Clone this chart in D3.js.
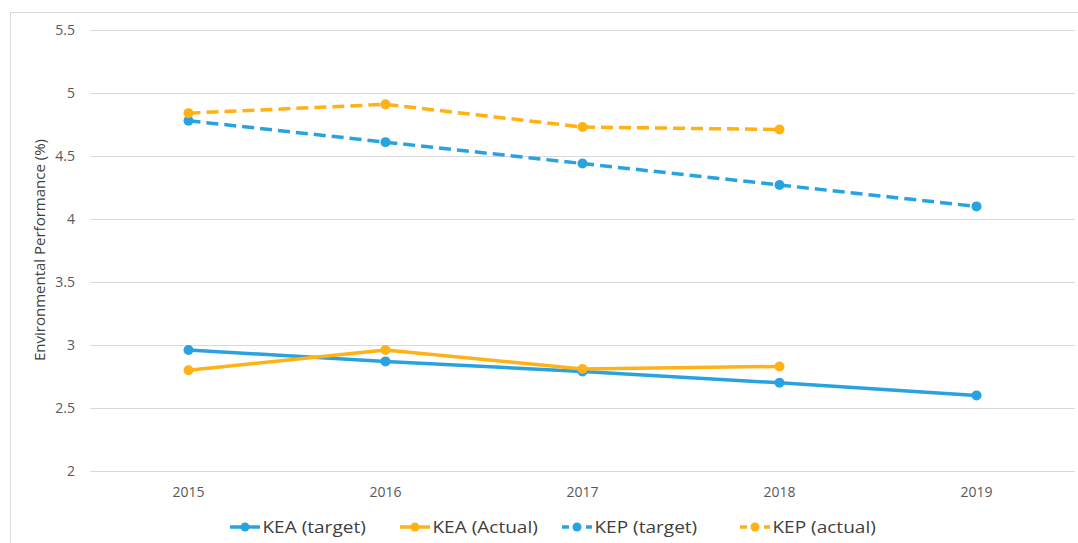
<!DOCTYPE html>
<html>
<head>
<meta charset="utf-8">
<script src="https://cdn.jsdelivr.net/npm/d3@7"></script>
<style>
  body { margin: 0; background: #fff; }
  svg { display: block; font-family: "Open Sans", "Noto Sans", sans-serif; }
</style>
</head>
<body>
<svg id="chart"></svg>
<script>
// Chart data
const years = ["2015", "2016", "2017", "2018", "2019"];
const keaTarget = [2.96, 2.87, 2.79, 2.70, 2.60];
const keaActual = [2.80, 2.96, 2.81, 2.83, null];
const kepTarget = [4.78, 4.61, 4.44, 4.27, 4.10];
const kepActual = [4.84, 4.91, 4.73, 4.71, null];
const yTicks = [2, 2.5, 3, 3.5, 4, 4.5, 5, 5.5];

const series = [
    { name: "KEA (target)", values: keaTarget, color: "#29A3DF", dashed: false },
    { name: "KEA (Actual)", values: keaActual, color: "#FFB116", dashed: false },
    { name: "KEP (target)", values: kepTarget, color: "#29A3DF", dashed: true },
    { name: "KEP (actual)", values: kepActual, color: "#FFB116", dashed: true }
];

const width = 1078;
const height = 543;
const margin = { left: 90, right: 3, top: 30, bottom: 72 };

const svg = d3.select("#chart")
    .attr("width", width)
    .attr("height", height);

// Outer chart frame
svg.append("rect")
    .attr("x", 10.5).attr("y", 12.5)
    .attr("width", width + 10).attr("height", height + 10)
    .attr("fill", "none")
    .attr("stroke", "#d9d9d9");

const x = d3.scaleBand()
    .domain(years)
    .range([margin.left, width - margin.right]);

const y = d3.scaleLinear()
    .domain([2, 5.5])
    .range([height - margin.bottom, margin.top]);

// Gridlines
svg.append("g")
    .selectAll("line")
    .data(yTicks)
    .join("line")
    .attr("x1", margin.left)
    .attr("x2", width - margin.right)
    .attr("y1", d => Math.round(y(d)) + 0.5)
    .attr("y2", d => Math.round(y(d)) + 0.5)
    .attr("stroke", "#d9d9d9")
    .attr("stroke-width", 1);

// Y tick labels
svg.append("g")
    .selectAll("text")
    .data(yTicks)
    .join("text")
    .attr("x", 75)
    .attr("y", d => y(d))
    .attr("dy", "0.35em")
    .attr("text-anchor", "end")
    .attr("font-size", 14)
    .attr("fill", "#595959")
    .text(d => d);

// X tick labels
svg.append("g")
    .selectAll("text")
    .data(years)
    .join("text")
    .attr("x", d => x(d) + x.bandwidth() / 2)
    .attr("y", 497)
    .attr("text-anchor", "middle")
    .attr("font-size", 14)
    .attr("fill", "#595959")
    .text(d => d);

// Y axis title
svg.append("text")
    .attr("transform", `translate(45, 250) rotate(-90)`)
    .attr("text-anchor", "middle")
    .attr("font-size", 15)
    .attr("fill", "#404040")
    .text("Environmental Performance (%)");

const line = d3.line()
    .defined(d => d.v !== null)
    .x(d => x(d.year) + x.bandwidth() / 2)
    .y(d => y(d.v));

series.forEach(s => {
    const pts = years.map((yr, i) => ({ year: yr, v: s.values[i] }));
    svg.append("path")
        .datum(pts)
        .attr("fill", "none")
        .attr("stroke", s.color)
        .attr("stroke-width", 3.5)
        .attr("stroke-dasharray", s.dashed ? "12,6" : null)
        .attr("d", line);
    svg.append("g")
        .selectAll("circle")
        .data(pts.filter(d => d.v !== null))
        .join("circle")
        .attr("cx", d => x(d.year) + x.bandwidth() / 2)
        .attr("cy", d => y(d.v))
        .attr("r", 5)
        .attr("fill", s.color);
});

// Legend
const legendX = [230, 400, 562, 740];
const legend = svg.append("g");
series.forEach((s, i) => {
    const g = legend.append("g").attr("transform", `translate(${legendX[i]}, 527)`);
    g.append("line")
        .attr("x1", 0).attr("x2", 30)
        .attr("stroke", s.color)
        .attr("stroke-width", 3.5)
        .attr("stroke-dasharray", s.dashed ? "7,5" : null);
    g.append("circle")
        .attr("cx", 15).attr("r", 4.5)
        .attr("fill", s.color);
    g.append("text")
        .attr("x", 29)
        .attr("dy", "0.35em")
        .attr("font-size", 17)
        .attr("transform", "scale(1.12,1)")
        .attr("fill", "#404040")
        .text(s.name);
});
</script>
</body>
</html>
